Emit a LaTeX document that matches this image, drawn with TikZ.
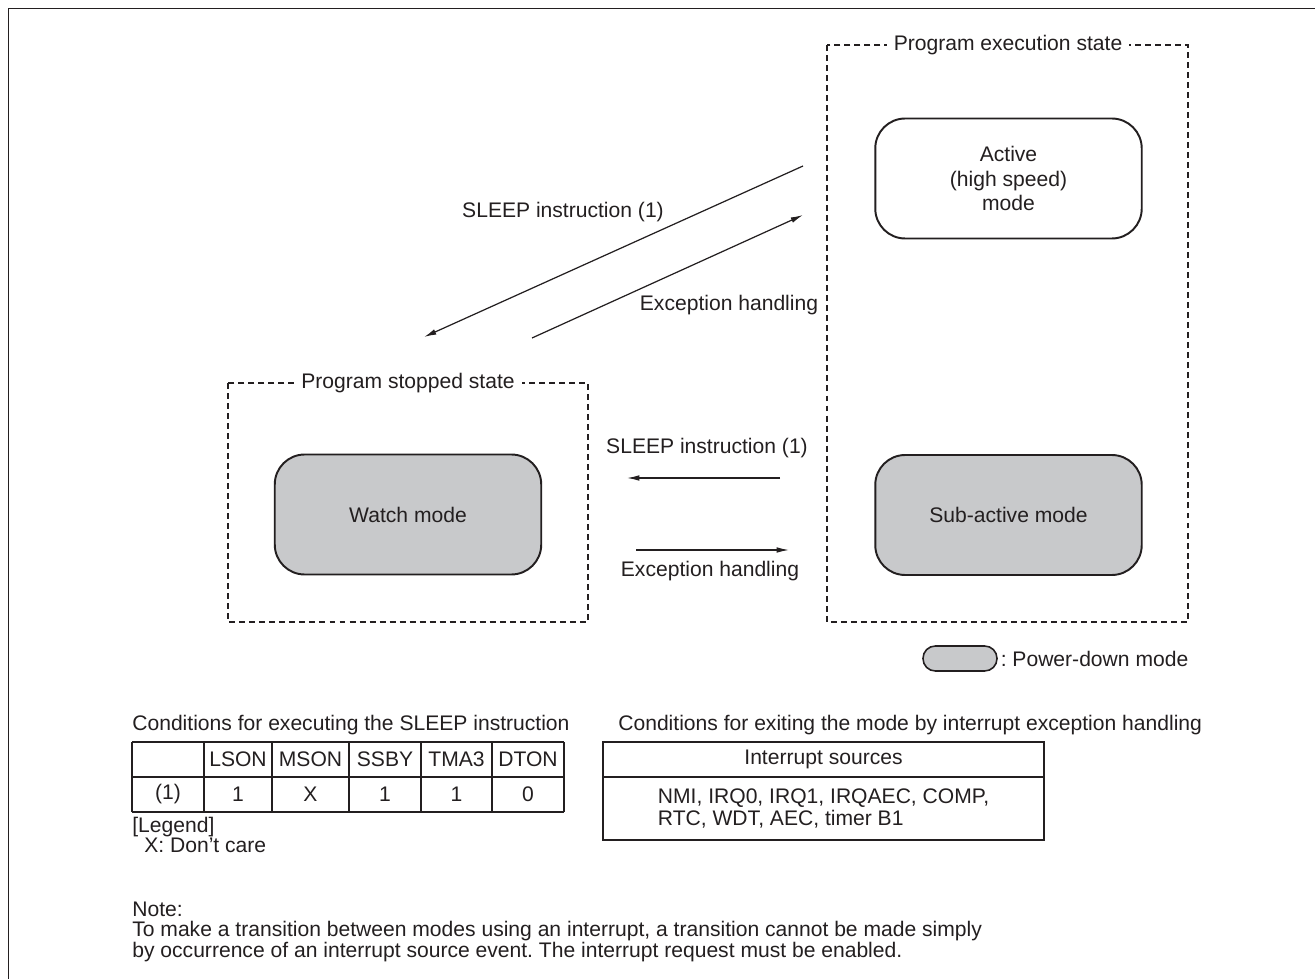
\documentclass[tikz,border=0pt]{standalone}
\usepackage{fontspec}
\setmainfont{Liberation Sans}
\usetikzlibrary{arrows.meta}
\frenchspacing
\definecolor{ink}{HTML}{231F20}
\definecolor{pdgray}{HTML}{C8C9CB}
\tikzset{
  modebox/.style={draw=ink, line width=1.1pt, rounded corners=17pt, minimum width=5.33cm, minimum height=2.4cm, align=center, fill=white},
  pdbox/.style={modebox, fill=pdgray},
  statebox/.style={draw=ink, line width=0.6pt, dash pattern=on 3.4pt off 2.3pt},
  statetitle/.style={fill=white, inner xsep=4pt, inner ysep=1pt},
  trans/.style={draw=ink, line width=0.7pt, -{Latex[length=7pt,width=3.2pt]}},
  tabline/.style={draw=ink, line width=0.9pt},
  txt/.style={anchor=west, inner sep=0pt}
}
\begin{document}
\begin{tikzpicture}[x=0.02cm, y=-0.02cm, text=ink, font=\fontsize{12}{14.2}\selectfont]
					\useasboundingbox (0,0) rectangle (1315,979);
					% Frame
					\draw[ink, line width=1.1pt] (8.5,979) -- (8.5,8.5) -- (1315,8.5);
					% State regions
					\draw[statebox] (827,45) rectangle (1188,622);
					\node[statetitle] (exectitle) at (1008,45) {Program execution state};
					\draw[statebox] (228,383) rectangle (588,622);
					\node[statetitle] (stoptitle) at (408,383) {Program stopped state};
					% Modes
					\node[modebox] (active) at (1008.5,178.5) {Active\\(high speed)\\mode};
					\node[pdbox] (subactive) at (1008.5,515) {Sub-active mode};
					\node[pdbox] (watch) at (408,514.5) {Watch mode};
					% Transitions
					\coordinate (slpA) at (803,166); \coordinate (slpB) at (424,337);
					\coordinate (excA) at (532,338); \coordinate (excB) at (803,215);
					\draw[trans] (slpA) -- (slpB);
					\draw[trans] (excA) -- (excB);
					\node (slplbl) at (563,212) {SLEEP instruction (1)};
					\node (exclbl) at (729,305) {Exception handling};
					\coordinate (hslpA) at (780,478); \coordinate (hslpB) at (627,478);
					\coordinate (hexcA) at (636,550); \coordinate (hexcB) at (789,550);
					\draw[trans] (hslpA) -- (hslpB);
					\draw[trans] (hexcA) -- (hexcB);
					\node (hslplbl) at (707,448) {SLEEP instruction (1)};
					\node (hexclbl) at (710,571) {Exception handling};
					% Legend
					\node[pdbox, minimum width=1.48cm, minimum height=0.5cm, rounded corners=7pt, line width=0.9pt] (legbox) at (960,658.5) {};
					\node[txt, xshift=1.5pt] (legtext) at (legbox.east) {: Power-down mode};
					% SLEEP conditions table
					\node[txt] (capleft) at (132,725) {Conditions for executing the SLEEP instruction};
					\foreach \x in {132,204,272,349,421,492,564} \draw[tabline] (\x,742) -- (\x,812);
					\foreach \y in {742,777,812} \draw[tabline] (132,\y) -- (564,\y);
					\foreach \x/\t [count=\i] in {238/LSON,310.5/MSON,385/SSBY,456.5/TMA3,528/DTON}
						\node (hd\i) at (\x,759.5) {\t};
					\foreach \x/\t [count=\i] in {168/(1),238/1,310.5/X,385/1,456.5/1,528/0}
						\node (val\i) at (\x,794.5) {\t};
					\node[txt] (legend) at (132,827) {[Legend]};
					\node[txt] (dontcare) at (144,845) {X: Don't care};
					% Interrupt sources table
					\node[txt] (capright) at (618,725) {Conditions for exiting the mode by interrupt exception handling};
					\draw[tabline] (603,742) rectangle (1044,840);
					\draw[tabline] (603,777) -- (1044,777);
					\node (srchd) at (823.5,759.5) {Interrupt sources};
					\node[align=left, font=\fontsize{12}{12}\selectfont] (srclist) at (823.5,808.5) {NMI, IRQ0, IRQ1, IRQAEC, COMP,\\RTC, WDT, AEC, timer B1};
					% Note
					\node[txt] (notehd) at (132,909) {Note:};
					\node[txt] (note1) at (132,931) {To make a transition between modes using an interrupt, a transition cannot be made simply};
					\node[txt] (note2) at (132,952) {by occurrence of an interrupt source event. The interrupt request must be enabled.};
				\end{tikzpicture}
\end{document}
